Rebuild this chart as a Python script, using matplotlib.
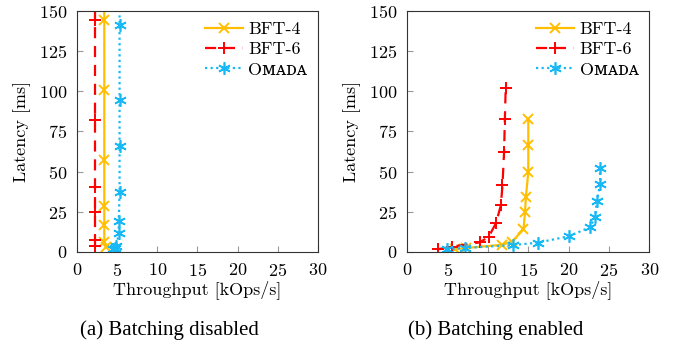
import matplotlib
matplotlib.use('Agg')
import matplotlib.pyplot as plt

plt.rcParams['font.family'] = ['cmr10', 'DejaVu Serif']
plt.rcParams['mathtext.fontset'] = 'cm'
plt.rcParams['axes.formatter.use_mathtext'] = True

# (a) batching disabled (last point of each series lies above the plotted range)
a_bft4_x = [3.6, 3.4, 3.4, 3.4, 3.4, 3.4, 3.4, 3.4]
a_bft4_y = [3.3, 6, 16.7, 28.6, 57, 100.6, 144, 200]
a_bft6_x = [2.3, 2.3, 2.3, 2.3, 2.3, 2.3, 2.3]
a_bft6_y = [3.7, 7.5, 24.8, 40.6, 82, 144, 200]
a_omada_x = [4.5, 4.7, 4.9, 5.2, 5.2, 5.3, 5.3, 5.3, 5.3, 5.3]
a_omada_y = [1.7, 2.3, 3.7, 11.6, 19.5, 37.5, 65.8, 94.4, 141.4, 200]

# (b) batching enabled
b_bft4_x = [5.9, 7.3, 11.8, 13.0, 14.4, 14.6, 14.7, 15.0, 15.0, 15.0]
b_bft4_y = [1.7, 2.5, 4.5, 6.5, 14, 24.6, 34, 49.5, 66.5, 83]
b_bft6_x = [3.8, 5.5, 9.0, 10.1, 11.0, 11.6, 11.8, 12.0, 12.1, 12.2]
b_bft6_y = [1.7, 3.3, 6, 9.5, 18, 29, 41.5, 62.5, 83, 102]
b_omada_x = [4.9, 7.1, 13.1, 16.2, 20.1, 22.6, 23.3, 23.5, 23.9, 23.9]
b_omada_y = [1.7, 2.5, 4.3, 5.8, 9.9, 15.3, 21.5, 32, 42, 52]

labels = ['BFT-4', 'BFT-6', 'O\u1d0d\u1d00\u1d05\u1d00']
captions = ['(a) Batching disabled', '(b) Batching enabled']

c4, c6, co = '#ffbf00', '#ff0000', '#16b9f5'

fig = plt.figure(figsize=(6.73, 3.45), dpi=100)
ax1 = fig.add_axes([0.1144, 0.2696, 0.358, 0.699])
ax2 = fig.add_axes([0.6052, 0.2696, 0.3595, 0.699])

panels = [
    (ax1, a_bft4_x, a_bft4_y, a_bft6_x, a_bft6_y, a_omada_x, a_omada_y),
    (ax2, b_bft4_x, b_bft4_y, b_bft6_x, b_bft6_y, b_omada_x, b_omada_y),
]

for ax, x4, y4, x6, y6, xo, yo in panels:
    ax.plot(x4, y4, color=c4, lw=1.6, marker='x', ms=7.5, mew=1.4, label=labels[0])
    ax.plot(x6, y6, color=c6, lw=1.6, ls=(0, (5, 3.5)), marker='+', ms=9, mew=1.4, label=labels[1])
    ax.plot(xo, yo, color=co, lw=1.6, ls=(0, (1, 1.5)), marker=(6, 2, 0), ms=9, mew=1.2, label=labels[2])
    ax.set_xlim(0, 30)
    ax.set_ylim(0, 150)
    ax.set_xticks(range(0, 31, 5))
    ax.set_yticks(range(0, 151, 25))
    ax.tick_params(direction='in', length=4, color='#999999', labelsize=13, pad=7)
    for s in ax.spines.values():
        s.set_color('#333333')
    ax.set_xlabel('Throughput [kOps/s]', fontsize=13, labelpad=1)
    ax.set_ylabel('Latency [ms]', fontsize=13, labelpad=6)
    ax.legend(loc='upper right', frameon=False, fontsize=13, handlelength=2.1,
              handletextpad=0.3, labelspacing=0.25, borderaxespad=0.2)

fig.text(0.252, 0.043, captions[0], ha='center', va='center', fontsize=15,
         family=['Liberation Serif', 'DejaVu Serif'])
fig.text(0.737, 0.043, captions[1], ha='center', va='center', fontsize=15,
         family=['Liberation Serif', 'DejaVu Serif'])

fig.savefig('out.png', dpi=100)
